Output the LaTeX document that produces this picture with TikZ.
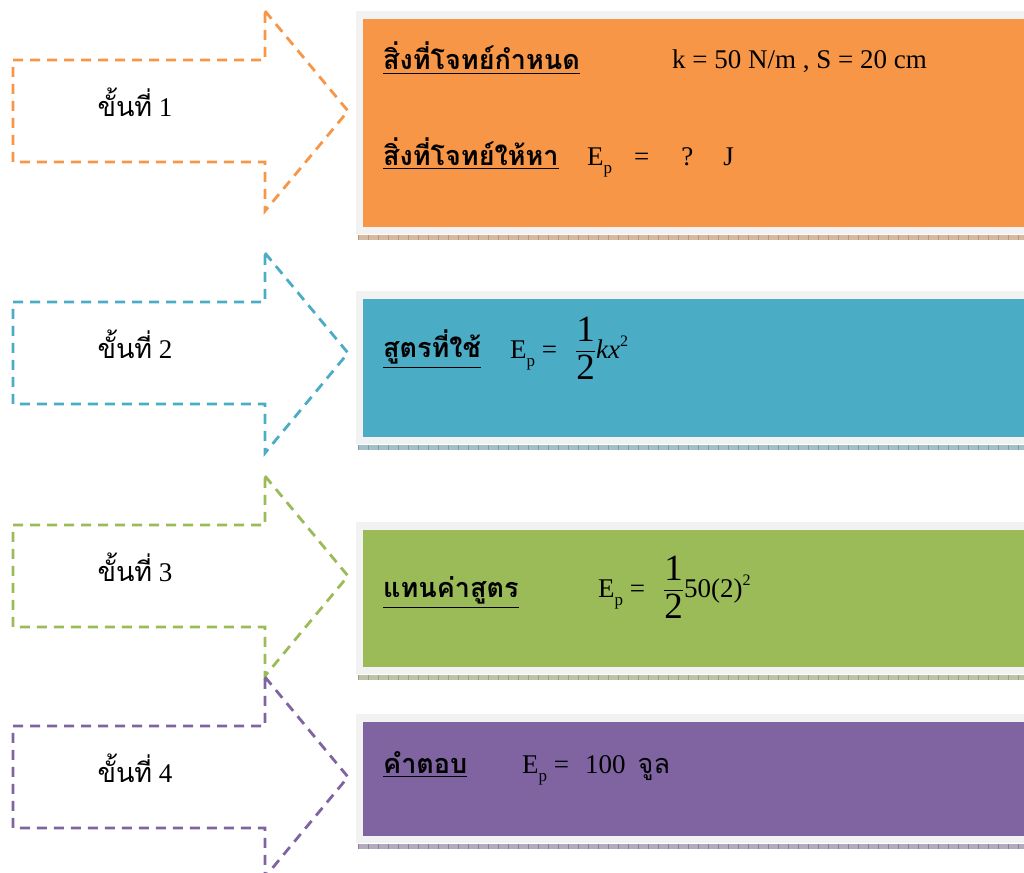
\documentclass[tikz,border=0pt]{standalone}
\usepackage{fontspec}
\usepackage{amsmath}
\setmainfont{Liberation Serif}
\newfontfamily\thaifont[Script=Thai]{Loma}
\usetikzlibrary{positioning, calc}

\definecolor{steporange}{HTML}{F79646}
\definecolor{stepblue}{HTML}{4BACC6}
\definecolor{stepgreen}{HTML}{9BBB59}
\definecolor{steppurple}{HTML}{8064A2}
\definecolor{framegray}{HTML}{F2F2F2}

% E with a low, small p; big one-half
\newcommand{\EpSym}{E\raisebox{-8pt}{\fontsize{17}{18}\selectfont p}}
\newcommand{\halfFrac}{{\fontsize{37}{40}\selectfont$\dfrac{\text{1}}{\text{2}}$}}
\newcommand{\supTwo}{\raisebox{12pt}{\fontsize{16}{18}\selectfont 2}}

\begin{document}
\begin{tikzpicture}[
  x=1pt, y=-1pt,
  font=\fontsize{27}{32}\selectfont,
  %--- dashed step arrows ---
  steparrow/.style={draw=#1, line width=2.8pt, dash pattern=on 10pt off 7pt},
  steplbl/.style={inner sep=0pt, font=\fontsize{27}{32}\selectfont},
  %--- panel texts ---
  headlbl/.style={anchor=base west, inner sep=0pt,
    font=\thaifont\bfseries\fontsize{27}{30}\selectfont},
  eqlbl/.style={anchor=base west, inner sep=0pt}
]

\useasboundingbox (0,0) rectangle (1024,872);

%------------------------------------------------------------------
%  Step arrows (left column)
%------------------------------------------------------------------
\foreach \c/\col/\n in {111/steporange/1, 353/stepblue/2,
                        576/stepgreen/3, 777/steppurple/4}{
  \draw[steparrow=\col]
    (265,\c-100) -- (348,\c) -- (265,\c+100) -- (265,\c+51)
    -- (13,\c+51) -- (13,\c-51) -- (265,\c-51) -- cycle;
  \node[steplbl] (step\n) at (135,\c-9) {{\thaifont ขั้นที่} \n};
}

%------------------------------------------------------------------
%  Coloured panels with grey frame and stripe underneath
%------------------------------------------------------------------
\foreach \top/\bot/\col in {19/227/steporange, 299/437/stepblue,
                            530/667/stepgreen, 722/836/steppurple}{
  \fill[framegray] (356,\top-8) rectangle (1024,\bot+7);
  \fill[\col] (363,\top) rectangle (1024,\bot);
  \draw[line width=5pt, \col!50!gray!60] (358,\bot+10.5) -- (1024,\bot+10.5);
  \draw[line width=5pt, \col!60!black!65, dash pattern=on 1pt off 9pt]
    (358,\bot+10.5) -- (1024,\bot+10.5);
}

%------------------------------------------------------------------
%  Panel texts
%------------------------------------------------------------------
\node[headlbl] (given) at (383,70) {\underline{สิ่งที่โจทย์กำหนด}};
\node[eqlbl] (givenval) at (672,69) {k = 50 N/m , S = 20 cm};

\node[headlbl] (find) at (383,165) {\underline{สิ่งที่โจทย์ให้หา}};
\node[eqlbl] (findval) at (587,165)
  {\EpSym\hspace{22pt}=\hspace{32pt}?\hspace{30pt}J};

\node[headlbl] (formula) at (383,357) {\underline{สูตรที่ใช้}};
\node[eqlbl] (formulaval) at (510,358)
  {\EpSym\ =\hspace{18pt}\halfFrac\textit{kx}\supTwo};

\node[headlbl] (subst) at (383,597) {\underline{แทนค่าสูตร}};
\node[eqlbl] (substval) at (598,597)
  {\EpSym\ =\hspace{18pt}\halfFrac 50(2)\supTwo};

\node[headlbl] (answer) at (383,773) {\underline{คำตอบ}};
\node[eqlbl] (answerval) at (522,773)
  {\EpSym\ =\hspace{16pt}100\hspace{12pt}{\thaifont จูล}};

\end{tikzpicture}
\end{document}
